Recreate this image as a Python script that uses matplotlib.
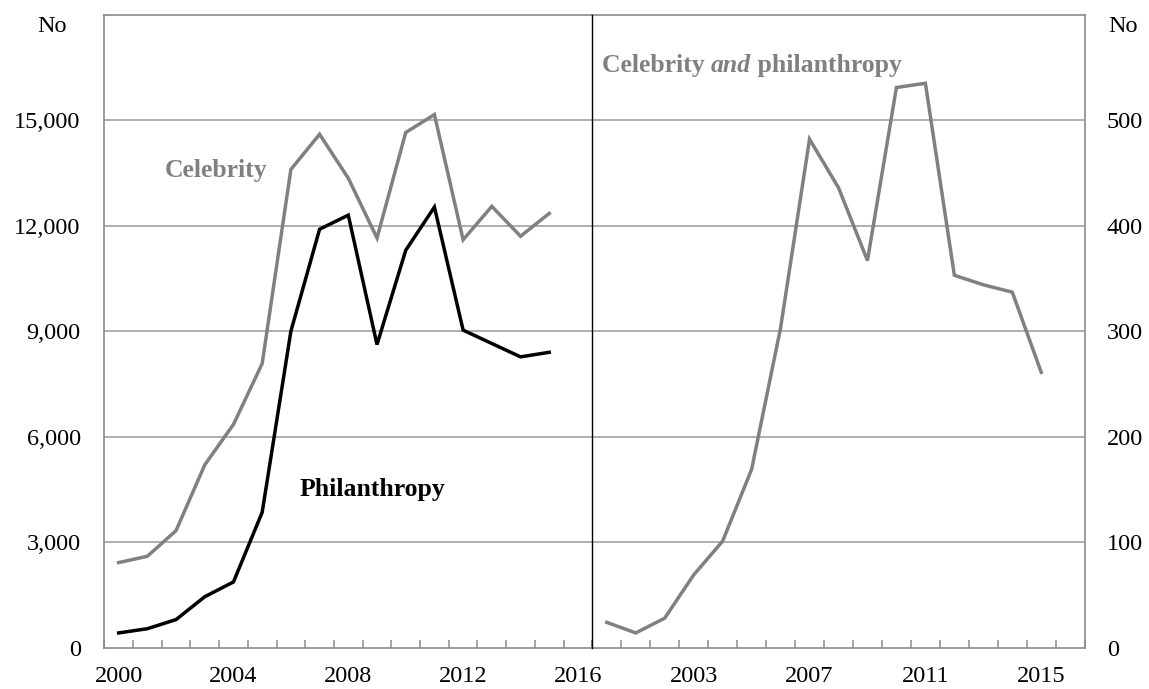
import matplotlib
matplotlib.use("Agg")
import matplotlib.pyplot as plt
from matplotlib.ticker import FixedLocator, FuncFormatter

plt.rcParams['font.family'] = ['Liberation Serif', 'DejaVu Serif']

# ---- data ----
years_left = list(range(2000, 2016))
celebrity = [2420, 2600, 3330, 5200, 6350, 8080, 13600, 14600, 13350, 11650,
             14650, 15160, 11600, 12550, 11700, 12350]
philanthropy = [420, 540, 800, 1450, 1870, 3850, 9000, 11900, 12300, 8620,
                11300, 12530, 9030, 8650, 8270, 8400]
left_labels = ['2000', '2004', '2008', '2012', '2016']

years_right = list(range(2000, 2016))
celeb_and_phil = [24, 14, 28, 69, 101, 169, 303, 482, 436, 367,
                  531, 535, 353, 344, 337, 261]
right_labels = ['2003', '2007', '2011', '2015']

left_yticks = [0, 3000, 6000, 9000, 12000, 15000]
right_yticks = [0, 100, 200, 300, 400, 500]

# ---- layout ----
W, H = 1149, 689
fig = plt.figure(figsize=(W / 100, H / 100), dpi=100)

x0, xs, x1 = 104.3, 592.3, 1084.7
ytop, ybot = 14.7, 647.7
axL = fig.add_axes([x0 / W, 1 - ybot / H, (xs - x0) / W, (ybot - ytop) / H])
axR = fig.add_axes([xs / W, 1 - ybot / H, (x1 - xs) / W, (ybot - ytop) / H])
axR.patch.set_visible(False)

GRAY = '#808080'
SPINE = '#8a8a8a'
GRID = '#999999'
FS = 17.5
AFS = 18.5

n_cat = 17

def style(ax, yticks, ymax, side):
    ax.set_xlim(-0.5, n_cat - 0.5)
    ax.set_ylim(0, ymax)
    for s in ax.spines.values():
        s.set_color(SPINE)
        s.set_linewidth(1.2)
    ax.yaxis.set_major_locator(FixedLocator(yticks))
    ax.yaxis.set_major_formatter(FuncFormatter(lambda v, p: f"{int(v):,}"))
    for y in yticks[1:]:
        ax.axhline(y, color=GRID, lw=1.1, zorder=0)
    ax.tick_params(axis='y', length=0, labelsize=FS, pad=17 if side == 'left' else 16)
    if side == 'right':
        ax.yaxis.tick_right()
    ax.set_xticks([i + 0.5 for i in range(-1, n_cat)], minor=True)
    ax.tick_params(axis='x', which='minor', direction='in', length=5.5,
                   width=1.1, color=SPINE)
    ax.tick_params(axis='x', which='major', length=0, labelsize=FS, pad=13)

style(axL, left_yticks, 18000, 'left')
style(axR, right_yticks, 600, 'right')

idxL = [y - years_left[0] for y in years_left]
axL.plot(idxL, celebrity, color=GRAY, lw=2.5, solid_joinstyle='miter', zorder=3)
axL.plot(idxL, philanthropy, color='black', lw=2.5, solid_joinstyle='miter', zorder=3)
axL.set_xticks([int(l) - years_left[0] for l in left_labels])
axL.set_xticklabels(left_labels)
axL.spines['right'].set_visible(False)

idxR = [y - years_right[0] for y in years_right]
axR.plot(idxR, celeb_and_phil, color=GRAY, lw=2.5, solid_joinstyle='miter', zorder=3)
axR.set_xticks([int(l) - years_right[0] for l in right_labels])
axR.set_xticklabels(right_labels)
axR.spines['left'].set_color('black')
axR.spines['left'].set_linewidth(1.0)
axR.spines['left'].set_zorder(5)

# unit labels
fig.text(52.5 / W, 1 - 26.7 / H, 'No', ha='center', va='center', fontsize=FS)
fig.text(1122.7 / W, 1 - 26.7 / H, 'No', ha='center', va='center', fontsize=FS)

# annotations
axL.text((165 - x0) / (xs - x0), (ybot - 176.7) / (ybot - ytop), 'Celebrity',
         transform=axL.transAxes, fontsize=AFS, fontweight='bold', color=GRAY,
         ha='left', va='baseline')
axL.text((299.3 - x0) / (xs - x0), (ybot - 496) / (ybot - ytop), 'Philanthropy',
         transform=axL.transAxes, fontsize=AFS, fontweight='bold', color='black',
         ha='left', va='baseline')

fig.canvas.draw()
renderer = fig.canvas.get_renderer()
xpix = 601.9
ybase = 1 - 71.7 / H
parts = [('Celebrity ', 'normal'), ('and', 'italic'), (' philanthropy', 'normal')]
for txt, st in parts:
    t = fig.text(xpix / W, ybase, txt, fontsize=AFS, fontweight='bold',
                 fontstyle=st, color=GRAY, ha='left', va='baseline')
    bb = t.get_window_extent(renderer)
    xpix = bb.x1

fig.savefig('out.png', dpi=100)
